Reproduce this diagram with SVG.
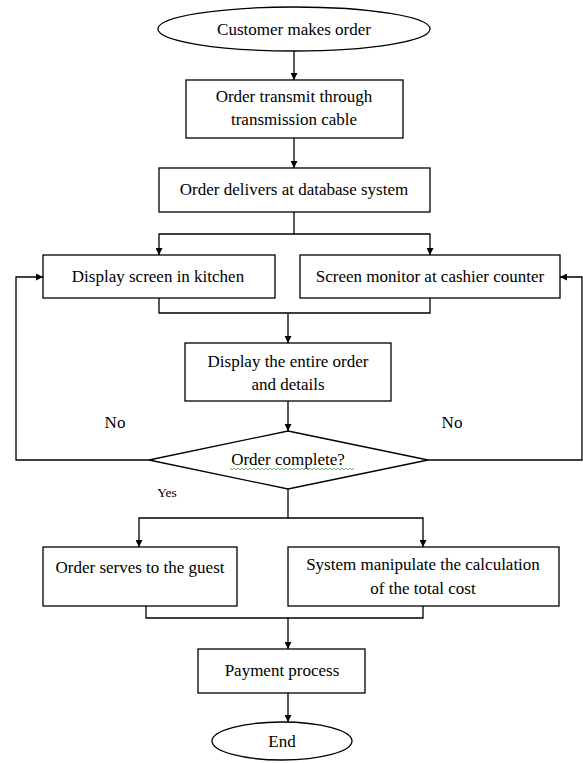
<svg xmlns="http://www.w3.org/2000/svg" width="583" height="763" viewBox="0 0 583 763">
  <style>
    .shape { fill: #ffffff; stroke: #000000; stroke-width: 1.3; }
    .lbl { font-family: "Liberation Serif", "Times New Roman", serif; font-size: 17px; fill: #000000; text-anchor: middle; }
    .small { font-size: 13.5px; }
    .wire { fill: none; stroke: #000000; stroke-width: 1.3; }
  </style>
  <defs>
    <marker id="arrow" viewBox="0 0 10 10" refX="10" refY="5" markerWidth="7" markerHeight="7" markerUnits="userSpaceOnUse" orient="auto">
      <path d="M0,0 L10,5 L0,10 Z" fill="#000000"/>
    </marker>
  </defs>
  <rect width="583" height="763" fill="#ffffff"/>

  <g id="connectors">
    <path class="wire" d="M294,51 V80" marker-end="url(#arrow)"/>
    <path class="wire" d="M294,138 V168" marker-end="url(#arrow)"/>
    <path class="wire" d="M294,212 V234 H159 V255" marker-end="url(#arrow)"/>
    <path class="wire" d="M294,234 H430 V255" marker-end="url(#arrow)"/>
    <path class="wire" d="M159,298 V313 H430 V298"/>
    <path class="wire" d="M288,313 V343" marker-end="url(#arrow)"/>
    <path class="wire" d="M288,401 V431" marker-end="url(#arrow)"/>
    <path class="wire" d="M149,460 H16 V277 H43" marker-end="url(#arrow)"/>
    <path class="wire" d="M428,460 H582 V277 H560" marker-end="url(#arrow)"/>
    <path class="wire" d="M288,489 V518 H139 V547" marker-end="url(#arrow)"/>
    <path class="wire" d="M288,518 H423 V547" marker-end="url(#arrow)"/>
    <path class="wire" d="M146,606 V618 H423 V606"/>
    <path class="wire" d="M288,618 V649" marker-end="url(#arrow)"/>
    <path class="wire" d="M288,693 V722" marker-end="url(#arrow)"/>
  </g>

  <g id="start">
    <ellipse class="shape" cx="294" cy="29" rx="136" ry="22"/>
    <text class="lbl" x="294" y="35">Customer makes order</text>
  </g>

  <g id="transmit">
    <rect class="shape" x="186" y="80" width="217" height="58"/>
    <text class="lbl" x="294" y="102">Order transmit through</text>
    <text class="lbl" x="294" y="125">transmission cable</text>
  </g>

  <g id="database">
    <rect class="shape" x="159" y="168" width="271" height="44"/>
    <text class="lbl" x="294" y="195">Order delivers at database system</text>
  </g>

  <g id="kitchen">
    <rect class="shape" x="43" y="255" width="232" height="43"/>
    <text class="lbl" x="158" y="282">Display screen in kitchen</text>
  </g>

  <g id="cashier">
    <rect class="shape" x="300" y="255" width="260" height="43"/>
    <text class="lbl" x="430" y="282">Screen monitor at cashier counter</text>
  </g>

  <g id="display">
    <rect class="shape" x="185" y="343" width="206" height="58"/>
    <text class="lbl" x="288" y="367">Display the entire order</text>
    <text class="lbl" x="288" y="390">and details</text>
  </g>

  <g id="decision">
    <polygon class="shape" points="288,431 428,460 288,489 149,460"/>
    <text class="lbl" x="288" y="465">Order complete?</text>
    <path d="M230,468 l2,2 l2,-2 l2,2 l2,-2 l2,2 l2,-2 l2,2 l2,-2 l2,2 l2,-2 l2,2 l2,-2 l2,2 l2,-2 l2,2 l2,-2 l2,2 l2,-2 l2,2 l2,-2 l2,2 l2,-2 l2,2 l2,-2 l2,2 l2,-2 l2,2 l2,-2 l2,2 l2,-2 l2,2 l2,-2 l2,2 l2,-2 l2,2 l2,-2 l2,2 l2,-2 l2,2 l2,-2 l2,2 l2,-2 l2,2 l2,-2 l2,2 l2,-2 l2,2 l2,-2 l2,2 l2,-2 l2,2 l2,-2 l2,2 l2,-2 l2,2 l2,-2 l2,2 l2,-2 l2,2 l2,-2 l2,2 l2,-2" fill="none" stroke="#3fa63f" stroke-width="0.8"/>
    <text class="lbl" x="115" y="428">No</text>
    <text class="lbl" x="452" y="428">No</text>
    <text class="lbl small" x="167" y="497">Yes</text>
  </g>

  <g id="serve">
    <rect class="shape" x="43" y="547" width="194" height="59"/>
    <text class="lbl" x="140" y="573">Order serves to the guest</text>
  </g>

  <g id="calculate">
    <rect class="shape" x="288" y="547" width="271" height="59"/>
    <text class="lbl" x="423" y="570">System manipulate the calculation</text>
    <text class="lbl" x="423" y="594">of the total cost</text>
  </g>

  <g id="payment">
    <rect class="shape" x="198" y="649" width="167" height="44"/>
    <text class="lbl" x="282" y="676">Payment process</text>
  </g>

  <g id="end">
    <ellipse class="shape" cx="282" cy="741" rx="70" ry="19"/>
    <text class="lbl" x="282" y="747">End</text>
  </g>
</svg>
